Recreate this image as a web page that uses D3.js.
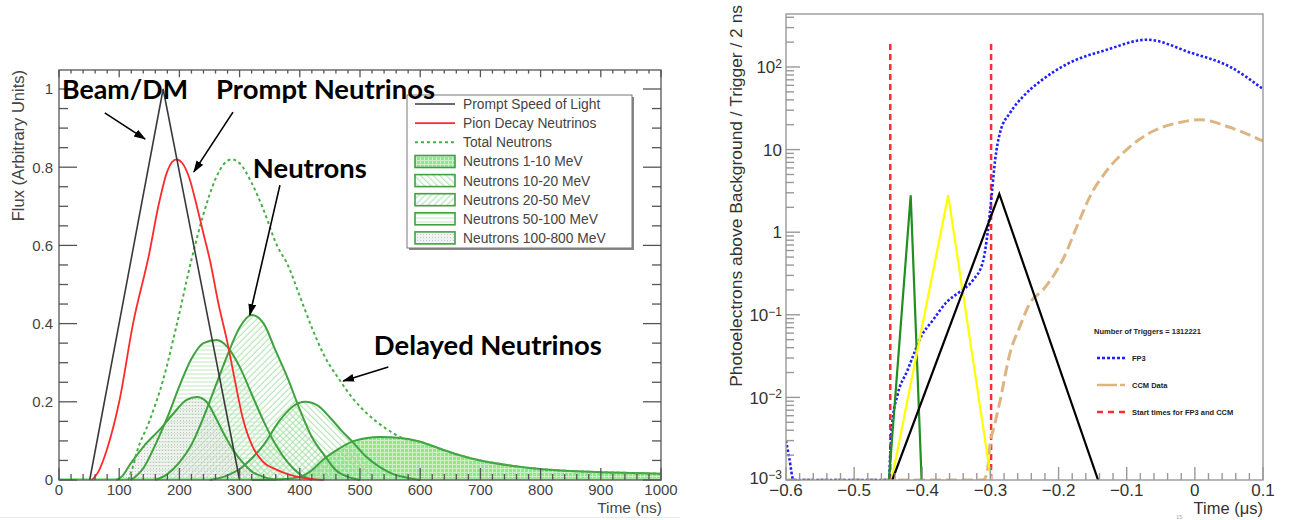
<!DOCTYPE html>
<html>
<head>
<meta charset="utf-8">
<script src="https://cdn.jsdelivr.net/npm/d3@7"></script>
<style>
  body { margin: 0; background: #fff; }
  svg { display: block; }
</style>
</head>
<body>
<script>
// left panel: flux vs time (ns)
const timeTicks = [0, 100, 200, 300, 400, 500, 600, 700, 800, 900, 1000]
const fluxTicks = [0, 0.2, 0.4, 0.6, 0.8, 1]
const fluxLabels = ['0', '0.2', '0.4', '0.6', '0.8', '1']

const speedOfLight = [[51, 0], [173, 1], [300, 0]]
const pionDecay = [[55, 0], [65, 0.02], [80, 0.08], [100, 0.2], [123, 0.4], [150, 0.58], [165, 0.7], [180, 0.79],
  [195, 0.82], [205, 0.81], [217, 0.77], [229, 0.7], [240, 0.63], [251, 0.56], [265, 0.45], [280, 0.35],
  [292, 0.256], [305, 0.16], [322, 0.084], [340, 0.045], [362, 0.026], [384, 0.013], [410, 0.004], [440, 0]]
const totalNeutrons = [[115, 0], [122, 0.03], [129, 0.07], [150, 0.15], [173, 0.256], [196, 0.4], [220, 0.563],
  [240, 0.68], [260, 0.77], [275, 0.81], [287, 0.82], [300, 0.81], [320, 0.76], [340, 0.69], [362, 0.6],
  [380, 0.55], [400, 0.47], [420, 0.39], [440, 0.32], [466, 0.256], [490, 0.205], [511, 0.171], [540, 0.135],
  [571, 0.107], [600, 0.098], [633, 0.08], [660, 0.066], [700, 0.05], [755, 0.036], [800, 0.028],
  [850, 0.023], [900, 0.02], [950, 0.018], [1000, 0.016]]

const neutrons1to10 = [[320, 0], [370, 0.002], [400, 0.008], [420, 0.025], [438, 0.051], [460, 0.075], [490, 0.1],
  [533, 0.11], [571, 0.107], [600, 0.098], [633, 0.08], [660, 0.066], [700, 0.05], [755, 0.036], [800, 0.028],
  [850, 0.023], [900, 0.02], [950, 0.018], [1000, 0.016]]
const neutrons10to20 = [[250, 0], [280, 0.012], [300, 0.028], [320, 0.055], [340, 0.09], [367, 0.153], [390, 0.19],
  [409, 0.2], [430, 0.19], [450, 0.16], [470, 0.125], [488, 0.097], [510, 0.06], [533, 0.033], [555, 0.015],
  [578, 0.006], [600, 0]]
const neutrons20to50 = [[160, 0], [180, 0.015], [200, 0.045], [220, 0.09], [240, 0.16], [260, 0.24], [280, 0.32],
  [300, 0.39], [320, 0.422], [340, 0.4], [360, 0.33], [380, 0.26], [400, 0.18], [420, 0.11], [440, 0.065],
  [460, 0.025], [480, 0.008], [500, 0]]
const neutrons50to100 = [[120, 0], [140, 0.03], [160, 0.09], [180, 0.16], [200, 0.24], [220, 0.31], [240, 0.35],
  [262, 0.358], [280, 0.34], [300, 0.29], [320, 0.22], [340, 0.15], [360, 0.09], [380, 0.045], [400, 0.015], [420, 0]]
const neutrons100to800 = [[95, 0], [105, 0.01], [118, 0.04], [140, 0.085], [168, 0.13], [190, 0.17], [212, 0.205],
  [229, 0.212], [245, 0.2], [260, 0.16], [275, 0.115], [290, 0.075], [305, 0.045], [320, 0.022], [340, 0.008], [360, 0]]

// right panel: photoelectrons vs time (us), log scale
const muTicks = [-0.6, -0.5, -0.4, -0.3, -0.2, -0.1, 0, 0.1]
const muLabels = ['−0.6', '−0.5', '−0.4', '−0.3', '−0.2', '−0.1', '0', '0.1']
const peExponents = [-3, -2, -1, 0, 1, 2]

const fp3 = [[-0.6, 3e-3], [-0.595, 1.8e-3], [-0.589, 1e-3], [-0.449, 1e-3], [-0.447, 2.1e-3], [-0.444, 4.9e-3],
  [-0.436, 0.011], [-0.422, 0.021], [-0.414, 0.031], [-0.403, 0.052], [-0.384, 0.087], [-0.364, 0.143],
  [-0.345, 0.19], [-0.326, 0.26], [-0.311, 0.44], [-0.304, 1.0], [-0.298, 2.9], [-0.293, 7.6], [-0.286, 16],
  [-0.271, 28], [-0.252, 44], [-0.227, 67], [-0.188, 108], [-0.129, 162], [-0.07, 214], [-0.007, 150],
  [0.052, 100], [0.1, 54]]
const ccmData = [[-0.6, 1e-3], [-0.311, 1e-3], [-0.305, 1.2e-3], [-0.301, 2.5e-3], [-0.293, 5e-3], [-0.286, 9e-3],
  [-0.271, 0.035], [-0.257, 0.0714], [-0.242, 0.139], [-0.223, 0.2], [-0.202, 0.35], [-0.193, 0.48],
  [-0.173, 1.18], [-0.154, 2.7], [-0.129, 5.6], [-0.1, 10], [-0.066, 16], [-0.026, 21], [0.008, 23],
  [0.052, 18.5], [0.1, 12.7]]
const startTimes = [-0.447, -0.299]
const greenPeak = [[-0.449, 1e-3], [-0.417, 2.8], [-0.401, 1e-3]]
const yellowPeak = [[-0.445, 1e-3], [-0.362, 2.8], [-0.299, 1e-3]]
const blackPeak = [[-0.444, 1e-3], [-0.287, 2.9], [-0.142, 1e-3]]

const rootFont = "'Liberation Sans', Arial, sans-serif"
const lineGreen = '#3fa23f'

const svg = d3.select('body').append('svg').attr('width', 1294).attr('height', 520)
const defs = svg.append('defs')

function makePattern (id, size, draw, angle) {
  const p = defs.append('pattern').attr('id', id)
    .attr('patternUnits', 'userSpaceOnUse').attr('width', size).attr('height', size)
  if (angle) p.attr('patternTransform', `rotate(${angle})`)
  draw(p)
}
makePattern('p1', 4, p => {
  p.append('rect').attr('width', 4).attr('height', 4).attr('fill', '#8ee68e')
  p.append('path').attr('d', 'M0 0.5H4M0.5 0V4').attr('stroke', '#c6f2c6').attr('stroke-width', 1)
})
makePattern('p2', 4.5, p => {
  p.append('path').attr('d', 'M0 2H4.5').attr('stroke', '#9edc9e').attr('stroke-width', 0.9)
}, 45)
makePattern('p3', 4.5, p => {
  p.append('path').attr('d', 'M0 2H4.5').attr('stroke', '#9edc9e').attr('stroke-width', 0.9)
}, -45)
makePattern('p4', 4, p => {
  p.append('path').attr('d', 'M0 2H4').attr('stroke', '#bfe8bf').attr('stroke-width', 1)
})
makePattern('p5', 3, p => {
  p.append('rect').attr('width', 3).attr('height', 3).attr('fill', 'rgba(220,226,220,0.4)')
  p.append('rect').attr('width', 1).attr('height', 1).attr('fill', '#c2c7c2')
})

defs.append('marker').attr('id', 'arrow')
  .attr('markerUnits', 'userSpaceOnUse').attr('markerWidth', 12).attr('markerHeight', 10)
  .attr('refX', 11).attr('refY', 4).attr('orient', 'auto')
  .append('path').attr('d', 'M0,0L12,4L0,8z').attr('fill', '#000')

// ---------------- left panel ----------------
const xL = d3.scaleLinear().domain([0, 1000]).range([59, 661])
const yL = d3.scaleLinear().domain([0, 1]).range([480, 89])
const topL = 70

const left = svg.append('g')
svg.append('line').attr('x1', 0).attr('x2', 680).attr('y1', 517.5).attr('y2', 517.5).attr('stroke', '#e8e8e8')

const smooth = d3.line().x(d => xL(d[0])).y(d => yL(d[1])).curve(d3.curveMonotoneX)
const area = d3.area().x(d => xL(d[0])).y0(yL(0)).y1(d => yL(d[1])).curve(d3.curveMonotoneX)

const bands = [
  { label: 'Neutrons 1-10 MeV', points: neutrons1to10, fill: 'url(#p1)' },
  { label: 'Neutrons 10-20 MeV', points: neutrons10to20, fill: 'url(#p2)' },
  { label: 'Neutrons 20-50 MeV', points: neutrons20to50, fill: 'url(#p3)' },
  { label: 'Neutrons 50-100 MeV', points: neutrons50to100, fill: 'url(#p4)' },
  { label: 'Neutrons 100-800 MeV', points: neutrons100to800, fill: 'url(#p5)' }
]

left.selectAll('path.band').data(bands).join('path')
  .attr('class', 'band').attr('d', d => area(d.points)).attr('fill', d => d.fill)
left.append('line').attr('x1', xL(0)).attr('x2', xL(1000)).attr('y1', yL(0) - 1).attr('y2', yL(0) - 1)
  .attr('stroke', '#9de89d').attr('stroke-width', 2)
left.selectAll('path.bandline').data(bands).join('path')
  .attr('class', 'bandline').attr('d', d => smooth(d.points))
  .attr('fill', 'none').attr('stroke', lineGreen).attr('stroke-width', 2)

left.append('path').attr('d', smooth(totalNeutrons)).attr('fill', 'none')
  .attr('stroke', '#45b045').attr('stroke-width', 2).attr('stroke-dasharray', '3,3')
left.append('path').attr('d', smooth(pionDecay)).attr('fill', 'none')
  .attr('stroke', '#ff2a2a').attr('stroke-width', 1.8)
left.append('path').attr('d', d3.line().x(d => xL(d[0])).y(d => yL(d[1]))(speedOfLight)).attr('fill', 'none')
  .attr('stroke', '#3a3a3a').attr('stroke-width', 1.6)

// frame and ticks
const axisL = svg.append('g').attr('stroke', '#555').attr('stroke-width', 1.3)
axisL.append('rect').attr('x', xL(0)).attr('y', topL).attr('width', xL(1000) - xL(0)).attr('height', yL(0) - topL)
  .attr('fill', 'none')
for (const t of xL.ticks(50)) {
  const len = t % 100 === 0 ? 12 : 6
  axisL.append('line').attr('x1', xL(t)).attr('x2', xL(t)).attr('y1', yL(0)).attr('y2', yL(0) - len)
  axisL.append('line').attr('x1', xL(t)).attr('x2', xL(t)).attr('y1', topL).attr('y2', topL + len * 0.6)
}
for (const t of d3.scaleLinear().domain([0, yL.invert(topL)]).ticks(20)) {
  const major = Math.abs(t * 5 - Math.round(t * 5)) < 1e-6
  const len = major ? 18 : 9
  axisL.append('line').attr('x1', xL(0)).attr('x2', xL(0) + len).attr('y1', yL(t)).attr('y2', yL(t))
  axisL.append('line').attr('x1', xL(1000)).attr('x2', xL(1000) - len).attr('y1', yL(t)).attr('y2', yL(t))
}

const labL = svg.append('g').attr('font-family', rootFont).attr('fill', '#444').attr('font-size', 15)
labL.selectAll('text.xt').data(timeTicks).join('text').attr('class', 'xt')
  .attr('x', d => xL(d)).attr('y', 495).attr('text-anchor', 'middle').text(d => d)
labL.selectAll('text.yt').data(fluxTicks).join('text').attr('class', 'yt')
  .attr('x', 53).attr('y', d => yL(d)).attr('dy', '0.36em').attr('text-anchor', 'end')
  .text((d, i) => fluxLabels[i])
labL.append('text').attr('x', 662).attr('y', 513).attr('text-anchor', 'end').attr('font-size', 15.5).text('Time (ns)')
labL.append('text').attr('transform', 'translate(24,70) rotate(-90)').attr('text-anchor', 'end')
  .attr('font-size', 16.5).text('Flux (Arbitrary Units)')

// legend
const leg = svg.append('g').attr('font-family', rootFont).attr('font-size', 13.8).attr('fill', '#444')
leg.append('rect').attr('x', 409).attr('y', 97).attr('width', 225).attr('height', 153).attr('fill', '#888')
leg.append('rect').attr('x', 407).attr('y', 95).attr('width', 225).attr('height', 153)
  .attr('fill', '#fff').attr('stroke', '#777')
const lineEntries = [
  { label: 'Prompt Speed of Light', color: '#3a3a3a', dash: null },
  { label: 'Pion Decay Neutrinos', color: '#ff2a2a', dash: null },
  { label: 'Total Neutrons', color: '#45b045', dash: '3,3' }
]
lineEntries.forEach((e, i) => {
  const y = 104 + i * 19.1
  leg.append('line').attr('x1', 415).attr('x2', 455).attr('y1', y).attr('y2', y)
    .attr('stroke', e.color).attr('stroke-width', e.dash ? 2 : 1.6).attr('stroke-dasharray', e.dash)
  leg.append('text').attr('x', 463).attr('y', y).attr('dy', '0.36em').text(e.label)
})
bands.forEach((b, i) => {
  const y = 161.5 + i * 19.1
  leg.append('rect').attr('x', 415).attr('y', y - 6).attr('width', 40).attr('height', 12)
    .attr('fill', b.fill).attr('stroke', lineGreen).attr('stroke-width', 1.6)
  leg.append('text').attr('x', 463).attr('y', y).attr('dy', '0.36em').text(b.label)
})

// annotations (positions in data units)
const notes = [
  { text: 'Beam/DM', at: [5, 0.975], width: 126, from: [76, 0.939], to: [143, 0.872] },
  { text: 'Prompt Neutrinos', at: [261, 0.975], width: 219, from: [289, 0.941], to: [224, 0.788] },
  { text: 'Neutrons', at: [322, 0.772], width: 114, from: [367, 0.754], to: [317, 0.422] },
  { text: 'Delayed Neutrinos', at: [523, 0.32], width: 228, from: [547, 0.289], to: [472, 0.253] }
]
const ann = svg.append('g')
ann.selectAll('line').data(notes).join('line')
  .attr('x1', d => xL(d.from[0])).attr('y1', d => yL(d.from[1]))
  .attr('x2', d => xL(d.to[0])).attr('y2', d => yL(d.to[1]))
  .attr('stroke', '#000').attr('stroke-width', 1.6).attr('marker-end', 'url(#arrow)')
ann.selectAll('text').data(notes).join('text')
  .attr('x', d => xL(d.at[0])).attr('y', d => yL(d.at[1]))
  .attr('font-family', 'Lato, sans-serif').attr('font-weight', 700).attr('font-size', 27)
  .attr('textLength', d => d.width).attr('lengthAdjust', 'spacingAndGlyphs')
  .text(d => d.text)

// ---------------- right panel ----------------
const xR = d3.scaleLinear().domain([-0.6, 0.1]).range([786, 1263])
const yR = d3.scaleLog().domain([1e-3, 1e2]).range([480, 67])
const topR = 14

defs.append('clipPath').attr('id', 'clipR').append('rect')
  .attr('x', 786).attr('y', topR).attr('width', 1263 - 786).attr('height', 480 - topR)

const right = svg.append('g').attr('clip-path', 'url(#clipR)')
const lineR = d3.line().x(d => xR(d[0])).y(d => yR(d[1]))

right.selectAll('line.start').data(startTimes).join('line').attr('class', 'start')
  .attr('x1', d => xR(d)).attr('x2', d => xR(d)).attr('y1', yR(1e-3)).attr('y2', yR(212))
  .attr('stroke', '#ff2e2e').attr('stroke-width', 2.5).attr('stroke-dasharray', '6,4')
right.append('path').attr('d', lineR.curve(d3.curveMonotoneX)(ccmData)).attr('fill', 'none')
  .attr('stroke', '#dcb682').attr('stroke-width', 3).attr('stroke-dasharray', '11,5')
right.append('path').attr('d', lineR.curve(d3.curveMonotoneX)(fp3)).attr('fill', 'none')
  .attr('stroke', '#1f1fff').attr('stroke-width', 2.6).attr('stroke-dasharray', '2.5,2')
const peaks = [
  { points: greenPeak, color: '#1f8f1f' },
  { points: yellowPeak, color: '#ffff00' },
  { points: blackPeak, color: '#000' }
]
right.selectAll('path.peak').data(peaks).join('path').attr('class', 'peak')
  .attr('d', d => lineR.curve(d3.curveLinear)(d.points)).attr('fill', 'none')
  .attr('stroke', d => d.color).attr('stroke-width', 2.2)

const axisR = svg.append('g').attr('stroke', '#999').attr('stroke-width', 1.4)
axisR.append('rect').attr('x', 786).attr('y', topR).attr('width', 1263 - 786).attr('height', 480 - topR)
  .attr('fill', 'none')
for (const t of xR.ticks(35)) {
  const major = Math.abs(t * 10 - Math.round(t * 10)) < 1e-6
  axisR.append('line').attr('x1', xR(t)).attr('x2', xR(t)).attr('y1', 480).attr('y2', 480 - (major ? 13 : 7))
}
const yTop = yR.invert(topR)
for (const t of d3.scaleLog().domain([1e-3, yTop]).ticks()) {
  if (t > yTop) continue
  const major = Math.abs(Math.log10(t) - Math.round(Math.log10(t))) < 1e-6
  axisR.append('line').attr('x1', 786).attr('x2', 786 + (major ? 14 : 8)).attr('y1', yR(t)).attr('y2', yR(t))
}

const labR = svg.append('g').attr('font-family', rootFont).attr('fill', '#333').attr('font-size', 17)
labR.selectAll('text.xt').data(muTicks).join('text').attr('class', 'xt')
  .attr('x', d => xR(d)).attr('y', 496).attr('text-anchor', 'middle').text((d, i) => muLabels[i])
peExponents.forEach(e => {
  const t = labR.append('text').attr('x', 782).attr('y', yR(10 ** e)).attr('dy', e === -3 ? '0.25em' : '0.36em')
    .attr('text-anchor', 'end')
  if (e === 0) t.text('1')
  else if (e === 1) t.text('10')
  else {
    t.append('tspan').text('10')
    t.append('tspan').attr('dy', '-0.45em').attr('font-size', 12).text(e < 0 ? '−' + (-e) : e)
  }
})
labR.append('text').attr('x', 1263).attr('y', 514).attr('text-anchor', 'end').attr('font-size', 16.5).text('Time (μs)')
labR.append('text').attr('transform', 'translate(742,5) rotate(-90)').attr('text-anchor', 'end')
  .attr('font-size', 17.4).text('Photoelectrons above Background / Trigger / 2 ns')
labR.append('text').attr('x', 1176).attr('y', 519).attr('font-size', 6).attr('fill', '#aaa').text('15')

// right legend
const legR = svg.append('g').attr('font-family', rootFont).attr('font-weight', 700).attr('font-size', 7.5).attr('fill', '#222')
legR.append('text').attr('x', 1094).attr('y', 334).text('Number of Triggers = 1312221')
const legRItems = [
  { label: 'FP3', y: 358, color: '#1f1fff', dash: '3,2', width: 2.5 },
  { label: 'CCM Data', y: 385, color: '#dcb682', dash: '20,3,5,40', width: 2.5 },
  { label: 'Start times for FP3 and CCM', y: 412, color: '#ff2e2e', dash: '6,5', width: 2.5 }
]
legRItems.forEach(it => {
  legR.append('line').attr('x1', 1097).attr('x2', 1125).attr('y1', it.y).attr('y2', it.y)
    .attr('stroke', it.color).attr('stroke-width', it.width).attr('stroke-dasharray', it.dash)
  legR.append('text').attr('x', 1132).attr('y', it.y).attr('dy', '0.36em').text(it.label)
})
</script>
</body>
</html>
